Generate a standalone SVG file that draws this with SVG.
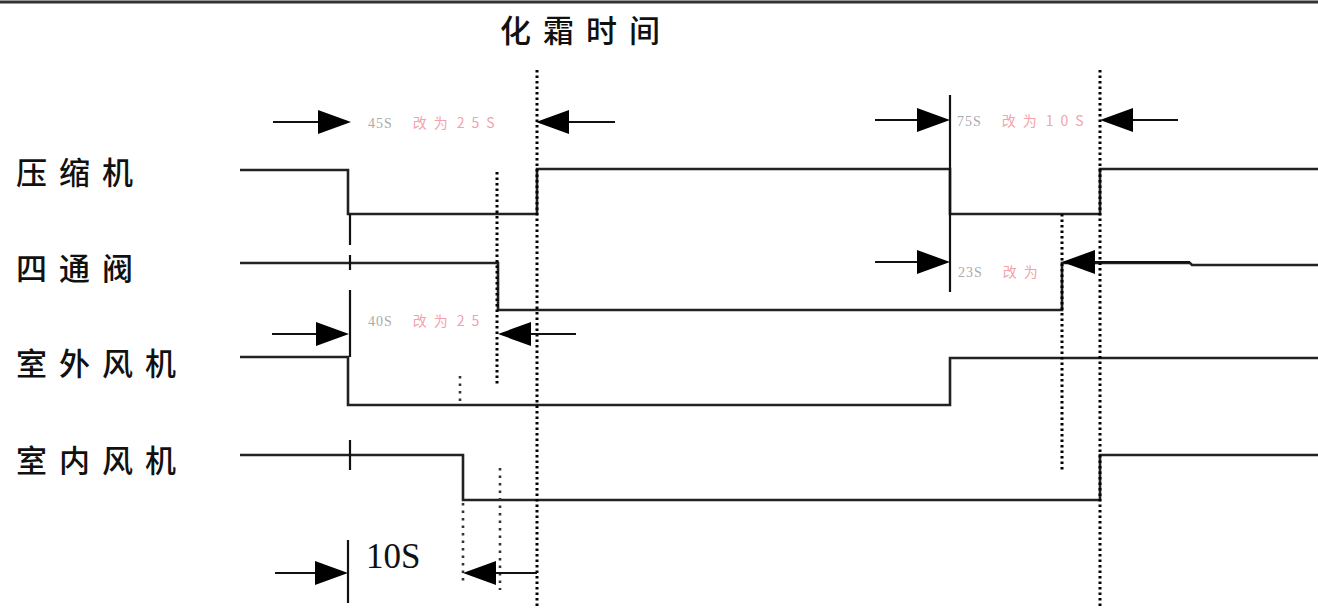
<svg xmlns="http://www.w3.org/2000/svg" width="1318" height="609" viewBox="0 0 1318 609">
<style>
.lbl{font-family:"Noto Sans CJK SC","Noto Sans",sans-serif;font-size:31px;font-weight:500;letter-spacing:12px;fill:#111}
.sig{fill:none;stroke:#222;stroke-width:2.6}
.dot{fill:none;stroke:#000;stroke-width:3;stroke-dasharray:2.5 3}
.dotl{fill:none;stroke:#333;stroke-width:2.6;stroke-dasharray:2.5 5}
.ln{fill:none;stroke:#111;stroke-width:2.2}
.ah{fill:#000}
.gr{font-family:"Liberation Serif",serif;font-size:14px;letter-spacing:1px;fill:#aaa}
.rd{font-family:"Noto Sans CJK SC",sans-serif;font-size:14px;letter-spacing:7px;fill:#f2a3ab}
.big{font-family:"Liberation Serif",serif;font-size:35px;fill:#111}
</style>
<rect width="1318" height="609" fill="#fff"/>
<line x1="0" y1="2" x2="1318" y2="2" stroke="#333" stroke-width="3"/>
<g id="title"><text class="lbl" x="500" y="42">化霜时间</text></g>
<g id="labels">
<text class="lbl" x="16" y="184">压缩机</text>
<text class="lbl" x="16" y="280">四通阀</text>
<text class="lbl" x="16" y="375">室外风机</text>
<text class="lbl" x="16" y="472">室内风机</text>
</g>
<g id="signals">
<polyline class="sig" points="240,170 348,170 348,214 537,214 537,169 950,169 950,214 1100,214 1100,169 1318,169"/>
<polyline class="sig" points="240,263 498,263 498,310 1062,310 1062,263 1190,263 1192,265 1318,265"/>
<polyline class="sig" points="240,357 348,357 348,405 950,405 950,358 1318,358"/>
<polyline class="sig" points="240,455 463,455 463,500 1100,500 1100,455 1318,455"/>
</g>
<g id="connectors">
<line class="ln" x1="350" y1="214" x2="350" y2="245"/>
<line class="ln" x1="350" y1="255" x2="350" y2="270"/>
<line class="ln" x1="350" y1="290" x2="350" y2="357"/>
<line class="ln" x1="350" y1="440" x2="350" y2="470"/>
<line class="ln" x1="348" y1="540" x2="348" y2="603"/>
<line class="ln" x1="950" y1="95" x2="950" y2="292"/>
<line class="dot" x1="537" y1="70" x2="537" y2="609"/>
<line class="dot" x1="1100" y1="70" x2="1100" y2="609"/>
<line class="dot" x1="497" y1="172" x2="497" y2="385"/>
<line class="dot" x1="1062" y1="214" x2="1062" y2="470"/>
<line class="dotl" x1="460" y1="376" x2="460" y2="402"/>
<line class="dotl" x1="463" y1="503" x2="463" y2="585"/>
<line class="dotl" x1="500" y1="468" x2="500" y2="590"/>
<line class="ln" x1="273" y1="122" x2="322" y2="122"/>
<path class="ah" d="M351,122 L318,110 L318,134 Z"/>
<line class="ln" x1="566" y1="122" x2="615" y2="122"/>
<path class="ah" d="M536,122 L569,110 L569,134 Z"/>
<line class="ln" x1="875" y1="120" x2="922" y2="120"/>
<path class="ah" d="M950,120 L917,108 L917,132 Z"/>
<line class="ln" x1="1128" y1="120" x2="1178" y2="120"/>
<path class="ah" d="M1100,120 L1133,108 L1133,132 Z"/>
<line class="ln" x1="875" y1="262" x2="922" y2="262"/>
<path class="ah" d="M950,262 L917,250 L917,274 Z"/>
<line class="ln" x1="1090" y1="262" x2="1190" y2="262"/>
<path class="ah" d="M1062,262 L1095,250 L1095,274 Z"/>
<line class="ln" x1="272" y1="334" x2="322" y2="334"/>
<path class="ah" d="M349,334 L316,322 L316,346 Z"/>
<line class="ln" x1="527" y1="334" x2="576" y2="334"/>
<path class="ah" d="M498,334 L531,322 L531,346 Z"/>
<line class="ln" x1="275" y1="573" x2="322" y2="573"/>
<path class="ah" d="M348,573 L315,561 L315,585 Z"/>
<line class="ln" x1="490" y1="573" x2="537" y2="573"/>
<path class="ah" d="M463,573 L496,561 L496,585 Z"/>
</g>
<g id="notes">
<text x="368" y="128"><tspan class="gr">45S</tspan><tspan class="rd" dx="20">改为</tspan><tspan class="rd" dx="2">25S</tspan></text>
<text x="957" y="126"><tspan class="gr">75S</tspan><tspan class="rd" dx="20">改为</tspan><tspan class="rd" dx="2">10S</tspan></text>
<text x="958" y="277"><tspan class="gr">23S</tspan><tspan class="rd" dx="20">改为</tspan></text>
<text x="368" y="326"><tspan class="gr">40S</tspan><tspan class="rd" dx="20">改为</tspan><tspan class="rd" dx="2">25</tspan></text>
<text class="big" x="366" y="568">10S</text>
</g>
</svg>
